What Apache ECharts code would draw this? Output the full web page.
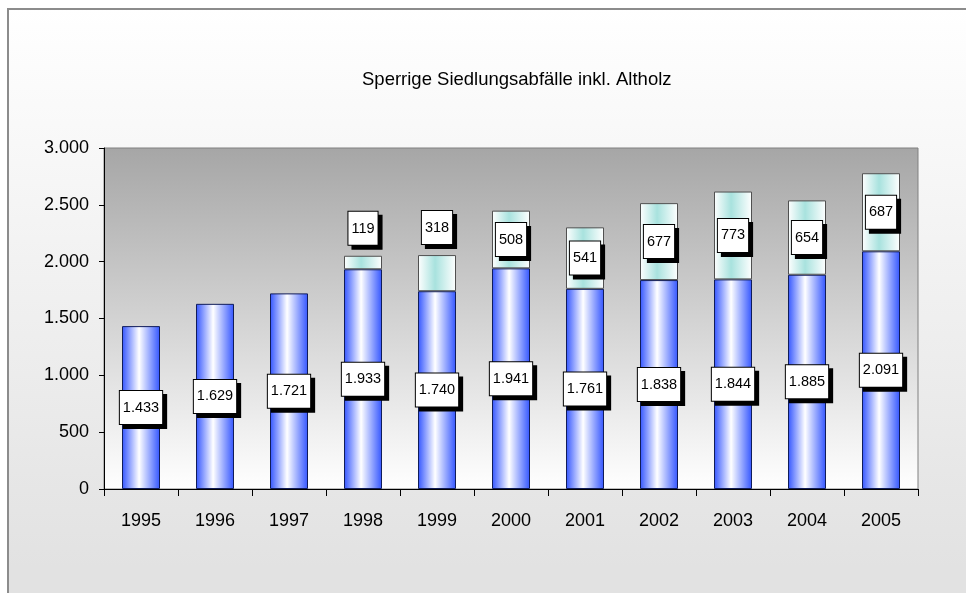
<!DOCTYPE html>
<html>
<head>
<meta charset="utf-8">
<script src="https://cdn.jsdelivr.net/npm/echarts@6/dist/echarts.min.js"></script>
<style>
  html, body { margin: 0; padding: 0; background: #fff; }
  #chart { width: 966px; height: 593px; }
</style>
</head>
<body>
<div id="chart"></div>
<script>
// Jahre und Mengen (in 1.000 t)
var years = ['1995', '1996', '1997', '1998', '1999', '2000', '2001', '2002', '2003', '2004', '2005'];
var sperrmuell = [1433, 1629, 1721, 1933, 1740, 1941, 1761, 1838, 1844, 1885, 2091];
var altholz = [null, null, null, 119, 318, 508, 541, 677, 773, 654, 687];
var yTicks = [0, 500, 1000, 1500, 2000, 2500, 3000];

var FONT = '"Liberation Sans", Arial, sans-serif';

// 1433 -> "1.433"
function fmt(v) {
  return String(v).replace(/\B(?=(\d{3})+(?!\d))/g, '.');
}

var myChart = echarts.init(document.getElementById('chart'));

var labelBox = {
  show: true,
  position: 'inside',
  color: '#000',
  fontFamily: FONT,
  fontSize: 14.5,
  lineHeight: 18,
  backgroundColor: '#fff',
  borderColor: '#000',
  borderWidth: 1,
  padding: [8, 3, 7, 3],
  shadowColor: '#000',
  shadowBlur: 0,
  shadowOffsetX: 4,
  shadowOffsetY: 4,
  formatter: function (p) { return fmt(p.value); }
};

var option = {
  animation: false,
  graphic: [{
    type: 'rect',
    z: -10,
    silent: true,
    shape: { x: 8, y: 9, width: 1000, height: 620 },
    style: {
      stroke: '#8c8c8c',
      lineWidth: 2,
      fill: new echarts.graphic.LinearGradient(0, 0, 0, 1, [
        { offset: 0, color: '#ffffff' },
        { offset: 0.9, color: '#e2e2e2' },
        { offset: 1, color: '#e2e2e2' }
      ])
    }
  }],
  title: {
    text: 'Sperrige Siedlungsabfälle inkl. Altholz',
    left: 357,
    top: 65,
    textStyle: {
      fontFamily: FONT,
      fontSize: 18.5,
      fontWeight: 'normal',
      color: '#000'
    }
  },
  grid: {
    left: 104,
    right: 48,
    top: 148,
    bottom: 104,
    show: true,
    borderColor: '#808080',
    borderWidth: 1,
    backgroundColor: new echarts.graphic.LinearGradient(0, 0, 0, 1, [
      { offset: 0, color: '#a6a6a6' },
      { offset: 1, color: '#ffffff' }
    ])
  },
  xAxis: {
    type: 'category',
    data: years,
    axisLine: { lineStyle: { color: '#000', width: 1 } },
    axisTick: { show: true, length: 7, lineStyle: { color: '#000' } },
    axisLabel: {
      margin: 23,
      fontFamily: FONT,
      fontSize: 18,
      color: '#000'
    },
    splitLine: { show: false }
  },
  yAxis: {
    type: 'value',
    min: yTicks[0],
    max: yTicks[yTicks.length - 1],
    interval: 500,
    axisLine: { show: true, lineStyle: { color: '#000', width: 1 } },
    axisTick: { show: true, length: 5, lineStyle: { color: '#000' } },
    axisLabel: {
      margin: 15,
      fontFamily: FONT,
      fontSize: 18,
      color: '#000',
      formatter: function (v) { return fmt(v); }
    },
    splitLine: { show: false }
  },
  series: [
    {
      name: 'Sperrmüll',
      type: 'bar',
      stack: 'gesamt',
      barWidth: 38,
      data: sperrmuell,
      itemStyle: {
        color: new echarts.graphic.LinearGradient(0, 0, 1, 0, [
          { offset: 0, color: '#3355ff' },
          { offset: 0.45, color: '#ffffff' },
          { offset: 1, color: '#3355ff' }
        ]),
        borderColor: '#101c5a',
        borderWidth: 1
      },
      label: labelBox
    },
    {
      name: 'Altholz',
      type: 'bar',
      stack: 'gesamt',
      barWidth: 38,
      data: altholz.map(function (v, i) {
        // kleine Segmente: Beschriftung oberhalb
        if (v !== null && v < 400) {
          return { value: v, label: { position: 'top', distance: 11 } };
        }
        return v;
      }),
      itemStyle: {
        color: new echarts.graphic.LinearGradient(0, 0, 1, 0, [
          { offset: 0, color: '#ffffff' },
          { offset: 0.45, color: '#a8e2de' },
          { offset: 1, color: '#ffffff' }
        ]),
        borderColor: '#505050',
        borderWidth: 1
      },
      label: labelBox
    }
  ]
};

myChart.setOption(option);
</script>
</body>
</html>
